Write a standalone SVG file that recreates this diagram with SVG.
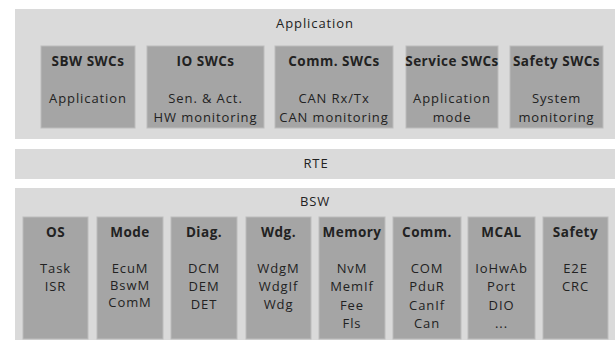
<svg xmlns="http://www.w3.org/2000/svg" width="615" height="340" viewBox="0 0 615 340">
  <style>
    .panel { fill: #dadada; }
    .box { fill: #a5a5a5; stroke: #bcbcbc; stroke-width: 1; }
    text { font-family: "Open Sans", "Liberation Sans", sans-serif; font-size: 13px; fill: #222222; text-anchor: middle; letter-spacing: 0.9px; }
    .title { font-weight: bold; font-size: 13.5px; letter-spacing: 0.5px; }
  </style>
  <rect width="615" height="340" fill="#ffffff"/>

  <!-- Application layer -->
  <g id="application">
    <rect class="panel" x="15" y="9" width="600" height="130"/>
    <text x="315" y="28">Application</text>
  </g>
  <g id="sbw-swcs">
    <rect class="box" x="41" y="46" width="94" height="82"/>
    <text class="title" x="88" y="66">SBW SWCs</text>
    <text x="88" y="103">Application</text>
  </g>
  <g id="io-swcs">
    <rect class="box" x="147" y="46" width="117" height="82"/>
    <text class="title" x="205.5" y="66">IO SWCs</text>
    <text x="205.5" y="103">Sen. &amp; Act.</text>
    <text x="205.5" y="122">HW monitoring</text>
  </g>
  <g id="comm-swcs">
    <rect class="box" x="275" y="46" width="118" height="82"/>
    <text class="title" x="334" y="66">Comm. SWCs</text>
    <text x="334" y="103">CAN Rx/Tx</text>
    <text x="334" y="122">CAN monitoring</text>
  </g>
  <g id="service-swcs">
    <rect class="box" x="406" y="46" width="92" height="82"/>
    <text class="title" x="452" y="66">Service SWCs</text>
    <text x="452" y="103">Application</text>
    <text x="452" y="122">mode</text>
  </g>
  <g id="safety-swcs">
    <rect class="box" x="510" y="46" width="93" height="82"/>
    <text class="title" x="556.5" y="66">Safety SWCs</text>
    <text x="556.5" y="103">System</text>
    <text x="556.5" y="122">monitoring</text>
  </g>

  <!-- Runtime environment -->
  <g id="rte">
    <rect class="panel" x="15" y="149" width="600" height="30"/>
    <text x="316" y="168">RTE</text>
  </g>

  <!-- Basic software -->
  <g id="bsw">
    <rect class="panel" x="15" y="188" width="600" height="152"/>
    <text x="315" y="206">BSW</text>
  </g>
  <g id="os">
    <rect class="box" x="23" y="217" width="65" height="122"/>
    <text class="title" x="55.5" y="237">OS</text>
    <text x="55.5" y="273">Task</text>
    <text x="55.5" y="291">ISR</text>
  </g>
  <g id="mode">
    <rect class="box" x="97" y="217" width="66" height="122"/>
    <text class="title" x="130" y="237">Mode</text>
    <text x="130" y="273">EcuM</text>
    <text x="130" y="290">BswM</text>
    <text x="130" y="307">ComM</text>
  </g>
  <g id="diag">
    <rect class="box" x="171" y="217" width="66" height="122"/>
    <text class="title" x="204" y="237">Diag.</text>
    <text x="204" y="273">DCM</text>
    <text x="204" y="291">DEM</text>
    <text x="204" y="309">DET</text>
  </g>
  <g id="wdg">
    <rect class="box" x="246" y="217" width="65" height="122"/>
    <text class="title" x="278.5" y="237">Wdg.</text>
    <text x="278.5" y="273">WdgM</text>
    <text x="278.5" y="291">WdgIf</text>
    <text x="278.5" y="309">Wdg</text>
  </g>
  <g id="memory">
    <rect class="box" x="319" y="217" width="66" height="122"/>
    <text class="title" x="352" y="237">Memory</text>
    <text x="352" y="273">NvM</text>
    <text x="352" y="291">MemIf</text>
    <text x="352" y="310">Fee</text>
    <text x="352" y="328">Fls</text>
  </g>
  <g id="comm">
    <rect class="box" x="393" y="217" width="68" height="122"/>
    <text class="title" x="427" y="237">Comm.</text>
    <text x="427" y="273">COM</text>
    <text x="427" y="291">PduR</text>
    <text x="427" y="310">CanIf</text>
    <text x="427" y="328">Can</text>
  </g>
  <g id="mcal">
    <rect class="box" x="468" y="217" width="67" height="122"/>
    <text class="title" x="501.5" y="237">MCAL</text>
    <text x="501.5" y="273">IoHwAb</text>
    <text x="501.5" y="291">Port</text>
    <text x="501.5" y="310">DIO</text>
    <text x="501.5" y="328">...</text>
  </g>
  <g id="safety">
    <rect class="box" x="543" y="217" width="65" height="122"/>
    <text class="title" x="575.5" y="237">Safety</text>
    <text x="575.5" y="273">E2E</text>
    <text x="575.5" y="291">CRC</text>
  </g>

  <!-- layered stack: no connectors -->
  <g id="connectors"/>
</svg>
